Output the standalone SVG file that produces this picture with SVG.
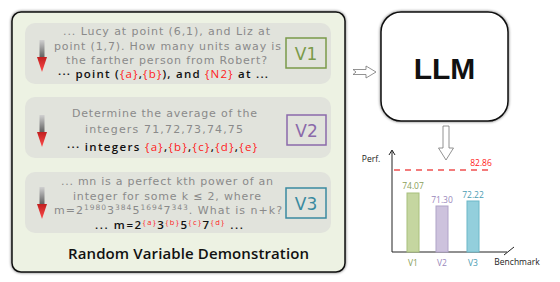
<svg xmlns="http://www.w3.org/2000/svg" width="560" height="282" viewBox="0 0 560 282">
<defs>
<filter id="sh" x="-10%" y="-10%" width="120%" height="120%">
<feGaussianBlur in="SourceAlpha" stdDeviation="1.5"/>
<feComponentTransfer><feFuncA type="linear" slope="0.6"/></feComponentTransfer>
<feMerge><feMergeNode/><feMergeNode in="SourceGraphic"/></feMerge>
</filter>
<linearGradient id="shaft" x1="0" y1="0" x2="0" y2="1">
<stop offset="0" stop-color="#d0d0d0"/>
<stop offset="1" stop-color="#555"/>
</linearGradient>
<linearGradient id="head" x1="0" y1="0" x2="0" y2="1">
<stop offset="0" stop-color="#c02020"/>
<stop offset="1" stop-color="#ff4a4a"/>
</linearGradient>
<g id="darr">
<rect x="-2.5" y="0" width="5" height="19" fill="url(#shaft)"/>
<polygon points="-5,17 5,17 0,32" fill="url(#head)"/>
</g>
</defs>
<style>
.q{font-family:"DejaVu Sans","Open Sans",sans-serif;font-size:11px;fill:#8a8a8a}
.k{font-family:"Open Sans","DejaVu Sans",sans-serif;font-size:11.5px;fill:#111;font-weight:600}
.r{fill:#ff1a1a;font-weight:400}
.sup{font-size:7.5px}
.inner{fill:#e1e3dc}
.vl{font-family:"DejaVu Sans","Open Sans",sans-serif;font-size:17px;text-anchor:middle}
.ch{font-family:"Open Sans","DejaVu Sans",sans-serif;font-size:8.5px;text-anchor:middle}
</style>

<g id="panel">
<rect x="12" y="12" width="333" height="260" rx="9" fill="#edf2e3" stroke="#111" stroke-width="1.5" filter="url(#sh)"/>
<text x="68" y="259" textLength="241" font-family="'Open Sans','DejaVu Sans',sans-serif" font-size="15" font-weight="600" fill="#111">Random Variable Demonstration</text>
</g>

<g id="v1-box">
<rect class="inner" x="25" y="23" width="306" height="61" rx="10"/>
<use href="#darr" x="42" y="40"/>
<text class="q" x="63" y="35" textLength="207">... Lucy at point (6,1), and Liz at</text>
<text class="q" x="54" y="49.5" textLength="227">point (1,7). How many units away is</text>
<text class="q" x="66" y="64" textLength="201">the farther person from Robert?</text>
<text class="k" x="58" y="78" textLength="210">··· point (<tspan class="r">{a}</tspan>,<tspan class="r">{b}</tspan>), and <tspan class="r">{N2}</tspan> at ...</text>
<rect x="286" y="38" width="40" height="30" fill="none" stroke="#7a9a4a" stroke-width="1.5"/>
<text class="vl" x="306" y="59.5" fill="#7a9a4a">V1</text>
</g>

<g id="v2-box">
<rect class="inner" x="25" y="97" width="306" height="61" rx="10"/>
<use href="#darr" x="42" y="115"/>
<text class="q" x="72" y="117" textLength="185">Determine the average of the</text>
<text class="q" x="85" y="133" textLength="158">integers 71,72,73,74,75</text>
<text class="k" x="67" y="151" textLength="190">··· integers <tspan class="r">{a}</tspan>,<tspan class="r">{b}</tspan>,<tspan class="r">{c}</tspan>,<tspan class="r">{d}</tspan>,<tspan class="r">{e}</tspan></text>
<rect x="287" y="115" width="39" height="30" fill="none" stroke="#8a6aaa" stroke-width="1.5"/>
<text class="vl" x="306.5" y="136.5" fill="#8a6aaa">V2</text>
</g>

<g id="v3-box">
<rect class="inner" x="25" y="172" width="306" height="61" rx="10"/>
<use href="#darr" x="42" y="187"/>
<text class="q" x="61" y="185" textLength="212">... mn is a perfect kth power of an</text>
<text class="q" x="73" y="200" textLength="188">integer for some k ≤ 2, where</text>
<text class="q" x="54" y="214" textLength="228">m=2<tspan class="sup" dy="-4">1980</tspan><tspan dy="4">3</tspan><tspan class="sup" dy="-4">384</tspan><tspan dy="4">5</tspan><tspan class="sup" dy="-4">1694</tspan><tspan dy="4">7</tspan><tspan class="sup" dy="-4">343</tspan><tspan dy="4">. What is n+k?</tspan></text>
<text class="k" x="95" y="229" textLength="148">... m=2<tspan class="r sup" dy="-4">{a}</tspan><tspan dy="4">3</tspan><tspan class="r sup" dy="-4">{b}</tspan><tspan dy="4">5</tspan><tspan class="r sup" dy="-4">{c}</tspan><tspan dy="4">7</tspan><tspan class="r sup" dy="-4">{d}</tspan><tspan dy="4"> ...</tspan></text>
<rect x="286" y="188" width="40" height="30" fill="none" stroke="#3a8aa0" stroke-width="1.5"/>
<text class="vl" x="306" y="209.5" fill="#3a8aa0">V3</text>
</g>

<g id="llm">
<rect x="381" y="12" width="127" height="109" rx="20" fill="#fff" stroke="#111" stroke-width="1.5" filter="url(#sh)"/>
<text x="444.5" y="79" font-family="'Liberation Sans',Arial,sans-serif" font-size="30" font-weight="700" fill="#111" text-anchor="middle">LLM</text>
</g>

<g id="connectors" fill="#fff" stroke="#777" stroke-width="0.8">
<polygon points="353,69.5 366,69.5 366,66 376,72 366,78 366,74.5 353,74.5 356,72"/>
<polygon points="443,126 449,126 449,148 453.5,148 446,160 438.5,148 443,148"/>
</g>

<g id="chart">
<g stroke="#222" stroke-width="1" fill="none">
<line x1="392" y1="252" x2="392" y2="151"/>
<polyline points="389,155 392,150 395,155"/>
<line x1="392" y1="252" x2="507" y2="252"/>
<line x1="504" y1="255" x2="514" y2="247"/>
</g>
<line x1="394" y1="170" x2="490" y2="170" stroke="#f05050" stroke-width="1.5" stroke-dasharray="6,5"/>
<text class="ch" x="481" y="166" fill="#ff2020">82.86</text>
<text class="ch" x="371" y="162" fill="#222">Perf.</text>
<text class="ch" x="517" y="265" fill="#222">Benchmark</text>
<rect x="407" y="193" width="12" height="59" fill="#c5d6a0" stroke="#a8c07c"/>
<rect x="436" y="206" width="12" height="46" fill="#cdc2dd" stroke="#b0a3c8"/>
<rect x="467" y="201" width="12" height="51" fill="#93cfdc" stroke="#6cb8c8"/>
<text class="ch" x="413" y="189" fill="#8aa05a">74.07</text>
<text class="ch" x="442" y="203" fill="#9a88bb">71.30</text>
<text class="ch" x="473" y="198" fill="#4c9cb2">72.22</text>
<text class="ch" x="413" y="266" fill="#8aa05a" font-size="10">V1</text>
<text class="ch" x="442" y="266" fill="#9a88bb" font-size="10">V2</text>
<text class="ch" x="473" y="266" fill="#4c9cb2" font-size="10">V3</text>
</g>
</svg>
